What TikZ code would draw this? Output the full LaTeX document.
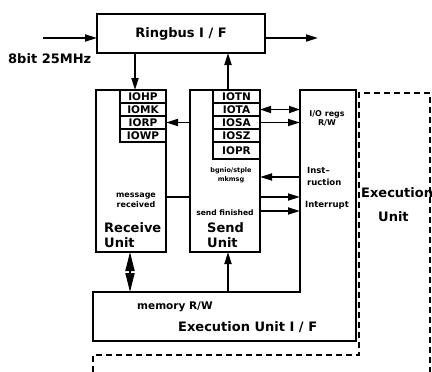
\documentclass[tikz,border=0pt]{standalone}
\usepackage{fontspec}
\setmainfont{DejaVu Sans}
\usetikzlibrary{arrows.meta, positioning}

\begin{document}
\begin{tikzpicture}[
    x=1pt, y=-1pt, font=\bfseries,
    box/.style={draw, line width=2pt, inner sep=0pt, outer sep=0pt},
    area/.style={inner sep=0pt, outer sep=0pt},
    reg/.style={draw, line width=1.2pt, inner sep=0pt, outer sep=0pt,
                minimum height=13pt, font=\bfseries\fontsize{10.5}{11}\selectfont},
    sig/.style={-{Triangle[length=12pt,width=7pt]}, line width=1.8pt},
    dsig/.style={{Triangle[length=11pt,width=7pt]}-{Triangle[length=11pt,width=7pt]},
                 line width=1.8pt},
    dmem/.style={{Triangle[length=19pt,width=9pt]}-{Triangle[length=19pt,width=9pt]},
                 line width=1.8pt},
    big/.style={font=\bfseries\fontsize{13}{15}\selectfont, align=left, inner sep=0pt},
    lbl/.style={font=\bfseries\fontsize{8}{10}\selectfont, align=center, inner sep=0pt},
    tiny/.style={font=\bfseries\fontsize{6.5}{9}\selectfont, align=center, inner sep=0pt},
    exu/.style={line width=1.3pt, dash pattern=on 6pt off 4pt},
]
\useasboundingbox (0,0) rectangle (432,372);

% ===================== Ringbus =====================
\node[box, big, minimum width=168pt, minimum height=39pt] (ring) at (181,33.5)
      {Ringbus I / F};
\coordinate (in) at (43,38);
\coordinate (out) at (318,38);
\draw[sig] (in) -- (in -| ring.west);
\draw[sig] (out -| ring.east) -- (out);
\node[big, anchor=west] (rate) at (8,59) {8bit 25MHz};

% ===================== Receive / Send =====================
\node[box, minimum width=70pt, minimum height=162pt] (recv) at (131,171) {};
\node[box, minimum width=70pt, minimum height=162pt] (send) at (225,171) {};

\node[reg, minimum width=46pt, anchor=north east] (iohp) at (recv.north east) {IOHP};
\node[reg, minimum width=46pt, below=0pt of iohp] (iomk) {IOMK};
\node[reg, minimum width=46pt, below=0pt of iomk] (iorp) {IORP};
\node[reg, minimum width=46pt, below=0pt of iorp] (iowp) {IOWP};

\node[reg, minimum width=47pt, anchor=north east] (iotn) at (send.north east) {IOTN};
\node[reg, minimum width=47pt, below=0pt of iotn] (iota) {IOTA};
\node[reg, minimum width=47pt, below=0pt of iota] (iosa) {IOSA};
\node[reg, minimum width=47pt, below=0pt of iosa] (iosz) {IOSZ};
\node[reg, minimum width=47pt, minimum height=17pt, below=0pt of iosz] (iopr) {IOPR};

\node[lbl] (msg) at (136,200) {message\\received};
\node[big, anchor=west] (rname) at (104,235.5) {Receive\\Unit};
\node[tiny] (bgn) at (231,175) {bgnio/stple\\mkmsg};
\node[lbl, font=\bfseries\fontsize{7.6}{9}\selectfont] (fin) at (225,213) {send finished};
\node[big, anchor=west] (sname) at (207,235.5) {Send\\Unit};

% ===================== Execution Unit I/F =====================
\node[area, minimum width=56pt, minimum height=251pt, anchor=north west] (ctrl) at (300,90) {};
\node[area, minimum width=263pt, minimum height=49pt, anchor=north west] (eif) at (93,292) {};
\draw[box] (eif.north west) -- (ctrl.west |- eif.north) -- (ctrl.north west)
      -- (ctrl.north east) -- (eif.south east) -- (eif.south west) -- cycle;
\node[lbl, font=\bfseries\fontsize{8}{9.5}\selectfont] (iorw) at (327,118.5) {I/O regs\\R/W};
\node[lbl, anchor=west, align=left, font=\bfseries\fontsize{8.5}{12}\selectfont] (inst)
      at (307,176) {Inst--\\ruction};
\node[lbl, anchor=west, font=\bfseries\fontsize{8.5}{10}\selectfont] (intr) at (305,205) {Interrupt};
\node[lbl, anchor=west, font=\bfseries\fontsize{10.5}{12}\selectfont] (mem) at (137,307) {memory R/W};
\node[big, anchor=west] (eifname) at (178,327) {Execution Unit I / F};

% ===================== Execution Unit =====================
\draw[exu] (93,372) -- (93,355) -- (359,355) -- (359,93) -- (430,93) -- (430,372);
\node[big, anchor=west] (exname) at (361,193) {Execution};
\node[big, anchor=west] (exunit) at (378,217) {Unit};

% ===================== Connectors =====================
\coordinate (yins) at (0,177);
\coordinate (ymsg) at (0,197);
\coordinate (yfin) at (0,211);

\draw[sig] ([xshift=4pt]recv.north |- ring.south) -- ([xshift=4pt]recv.north);
\draw[sig] ([xshift=3pt]send.north) -- ([xshift=3pt]send.north |- ring.south);
\draw[sig] (send.west |- iorp) -- (iorp.east);
\draw[dsig] (iota.east) -- (ctrl.west |- iota);
\draw[sig] (iosa.east) -- (ctrl.west |- iosa);
\draw[sig] (ctrl.west |- yins) -- (send.east |- yins);
\draw[line width=1.8pt] (recv.east |- ymsg) -- (send.west |- ymsg);
\draw[sig] (send.east |- ymsg) -- (ctrl.west |- ymsg);
\draw[sig] (send.east |- yfin) -- (ctrl.west |- yfin);
\draw[dmem] ([xshift=-1pt]recv.south) -- ([xshift=-1pt]recv.south |- eif.north);
\draw[sig] ([xshift=3pt]send.south |- eif.north) -- ([xshift=3pt]send.south);

\end{tikzpicture}
\end{document}
